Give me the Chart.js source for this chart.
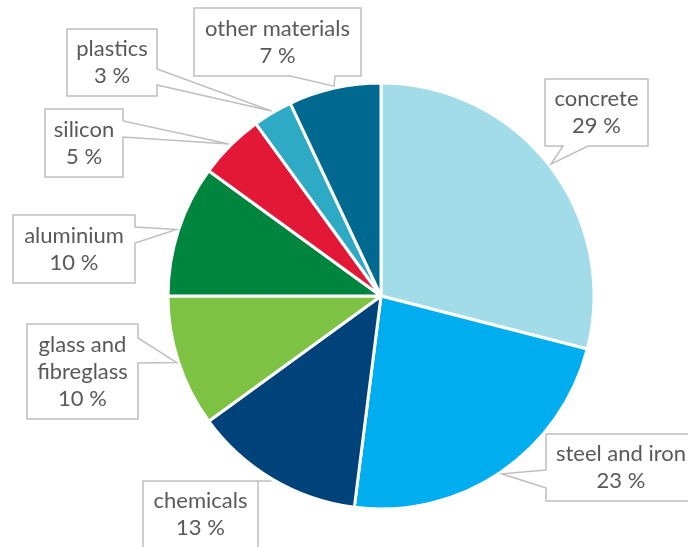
<!DOCTYPE html>
<html>
<head>
<meta charset="utf-8">
<script src="https://cdn.jsdelivr.net/npm/chart.js@4.4.1/dist/chart.umd.min.js"></script>
<style>
  html, body { margin: 0; padding: 0; background: #ffffff; }
  #wrap { position: relative; width: 688px; height: 547px; }
</style>
</head>
<body>
<div id="wrap"><canvas id="chart"></canvas></div>
<script>
// Material shares (%)
const categories = ['concrete', 'steel and iron', 'chemicals', 'glass and fibreglass',
                    'aluminium', 'silicon', 'plastics', 'other materials'];
const shares = [29, 23, 13, 10, 10, 5, 3, 7];
const sliceColors = ['#A2DCE8', '#00AEEF', '#00427A', '#7DC242',
                     '#00853E', '#E31837', '#2FAAC4', '#00698F'];

// Callout boxes: box rectangle, the side the pointer leaves from and its base span
const callouts = [
  { x: 545, y: 79,  w: 103, h: 67, side: 'bottom', b: [563, 588] },
  { x: 546, y: 434, w: 150, h: 67, side: 'left',   b: [470, 488] },
  { x: 143, y: 481, w: 115, h: 67, side: 'top',    b: [210, 240] },
  { x: 27,  y: 324, w: 111, h: 95, side: 'right',  b: [338, 363] },
  { x: 13,  y: 215, w: 122, h: 68, side: 'right',  b: [227, 243] },
  { x: 45,  y: 109, w: 78,  h: 68, side: 'right',  b: [121, 137] },
  { x: 67,  y: 29,  w: 90,  h: 67, side: 'right',  b: [69, 85] },
  { x: 194, y: 8,   w: 167, h: 68, side: 'bottom', b: [290, 335] }
];

const FONT = '22px Lato, "Open Sans", sans-serif';
const LINE_H = 27;

function wrapWords(ctx, text, maxW) {
  const words = text.split(' ');
  const lines = [];
  let cur = '';
  for (const w of words) {
    const t = cur ? cur + ' ' + w : w;
    if (cur && ctx.measureText(t).width > maxW) { lines.push(cur); cur = w; }
    else cur = t;
  }
  if (cur) lines.push(cur);
  return lines;
}

const calloutPlugin = {
  id: 'calloutLabels',
  afterDatasetsDraw(chart) {
    const ctx = chart.ctx;
    const arcs = chart.getDatasetMeta(0).data;
    ctx.save();
    ctx.font = FONT;
    arcs.forEach((arc, i) => {
      const c = callouts[i];
      if (!c) return;
      const p = arc.getProps(['x', 'y', 'startAngle', 'endAngle', 'outerRadius'], true);
      const mid = (p.startAngle + p.endAngle) / 2;
      const tip = [p.x + Math.cos(mid) * (p.outerRadius + 2), p.y + Math.sin(mid) * (p.outerRadius + 2)];
      const L = c.x, T = c.y, R = c.x + c.w, B = c.y + c.h;
      const [b1, b2] = c.b;
      let pts;
      if (c.side === 'top') pts = [[L, T], [b1, T], tip, [b2, T], [R, T], [R, B], [L, B]];
      else if (c.side === 'right') pts = [[L, T], [R, T], [R, b1], tip, [R, b2], [R, B], [L, B]];
      else if (c.side === 'bottom') pts = [[L, T], [R, T], [R, B], [b2, B], tip, [b1, B], [L, B]];
      else pts = [[L, T], [R, T], [R, B], [L, B], [L, b2], tip, [L, b1]];
      ctx.beginPath();
      pts.forEach((q, k) => k ? ctx.lineTo(q[0], q[1]) : ctx.moveTo(q[0], q[1]));
      ctx.closePath();
      ctx.fillStyle = '#ffffff';
      ctx.fill();
      ctx.lineWidth = 1.5;
      ctx.strokeStyle = '#BFBFBF';
      ctx.lineJoin = 'miter';
      ctx.stroke();

      const lines = wrapWords(ctx, categories[i], c.w - 12);
      lines.push(shares[i] + ' %');
      ctx.fillStyle = '#595959';
      ctx.textAlign = 'center';
      ctx.textBaseline = 'middle';
      const cx = c.x + c.w / 2;
      const cy = c.y + c.h / 2;
      const top = cy - (lines.length - 1) * LINE_H / 2;
      lines.forEach((ln, k) => ctx.fillText(ln, cx, top + k * LINE_H));
    });
    ctx.restore();
  }
};

new Chart(document.getElementById('chart'), {
  type: 'pie',
  data: {
    labels: categories,
    datasets: [{
      data: shares,
      backgroundColor: sliceColors,
      borderColor: '#ffffff',
      borderWidth: 3,
      hoverOffset: 0
    }]
  },
  options: {
    responsive: true,
    maintainAspectRatio: false,
    animation: false,
    radius: 213,
    layout: { padding: { left: 74, right: 0, top: 45, bottom: 0 } },
    plugins: {
      legend: { display: false },
      tooltip: { enabled: false }
    }
  },
  plugins: [calloutPlugin]
});
</script>
</body>
</html>
